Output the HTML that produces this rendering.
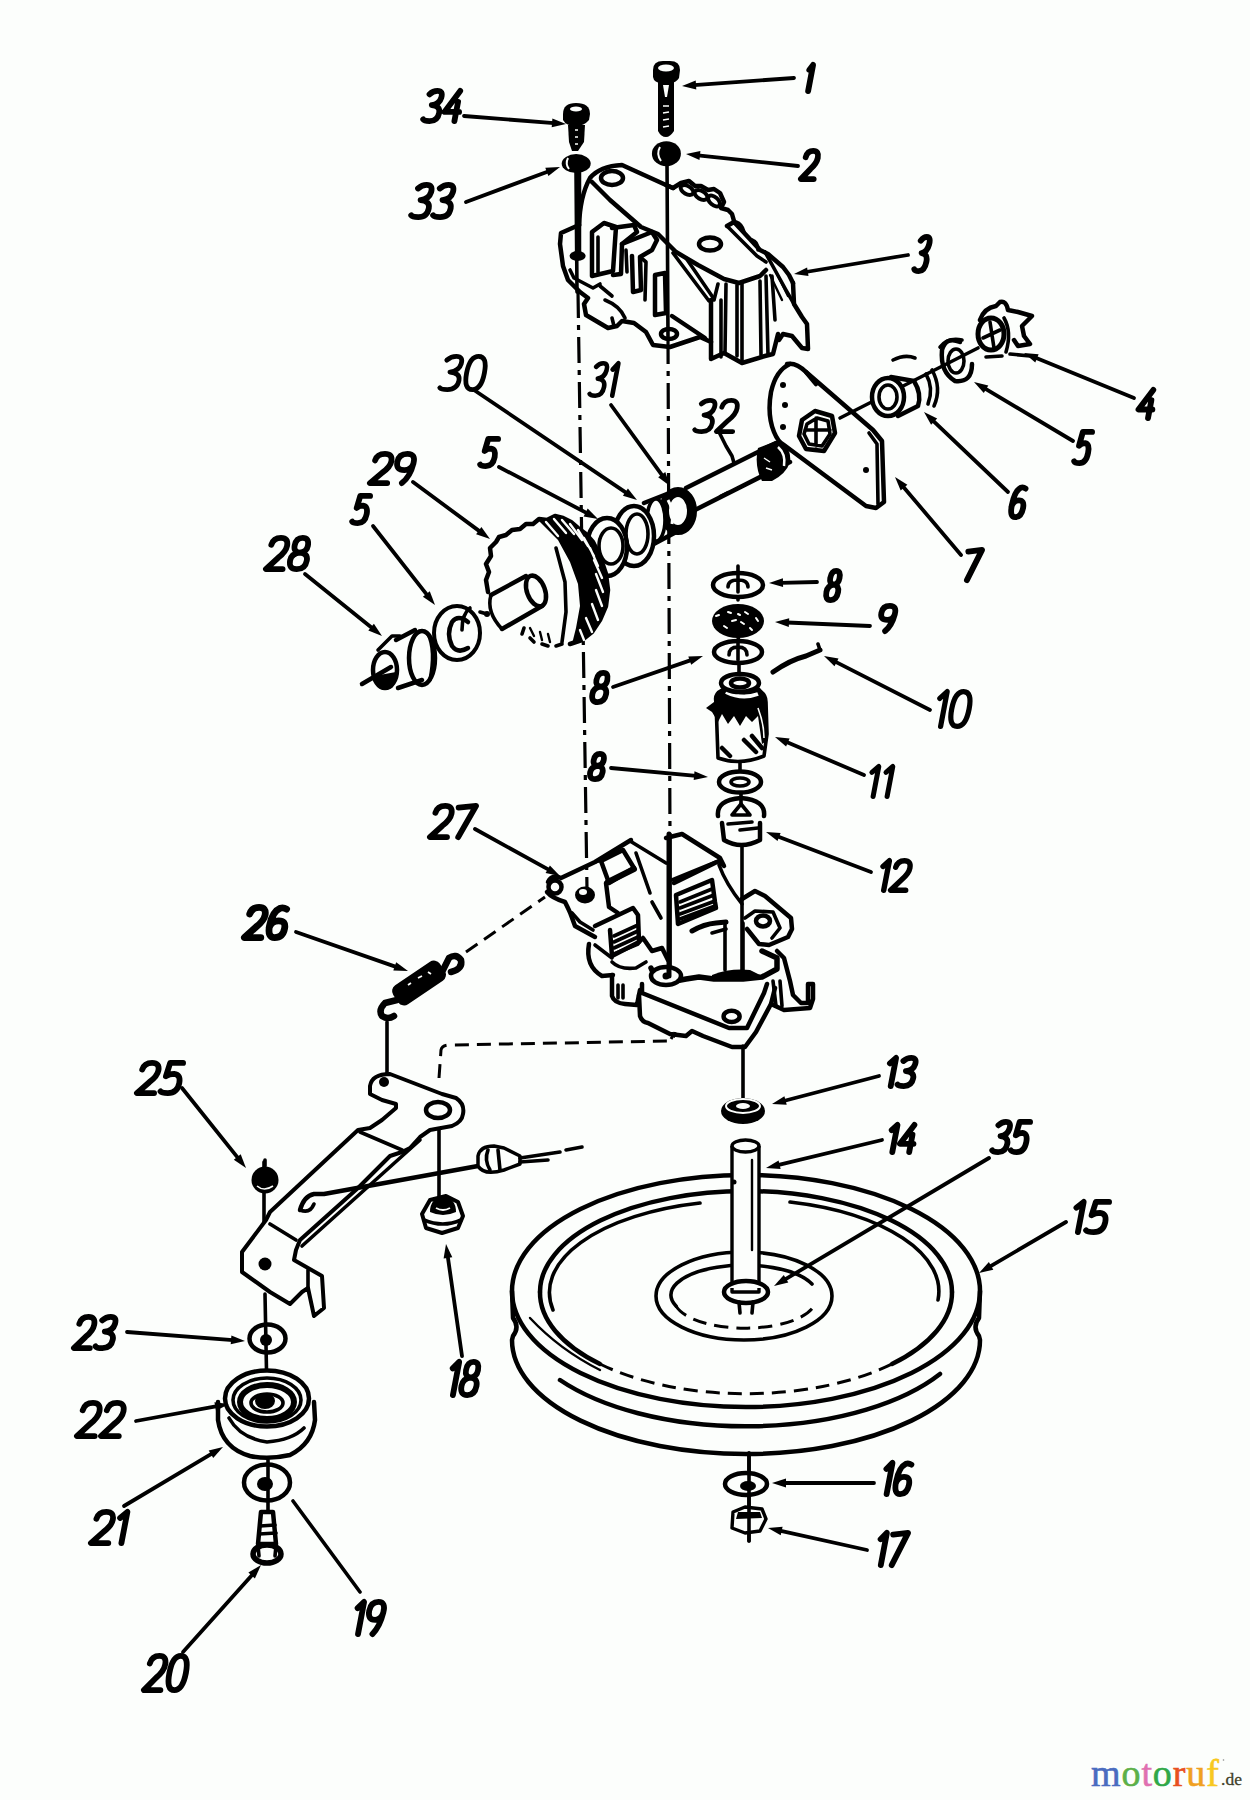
<!DOCTYPE html>
<html><head><meta charset="utf-8"><style>
html,body{margin:0;padding:0;background:#fcfefc;width:1250px;height:1800px;overflow:hidden}
svg{display:block}
.lb{font-family:"Liberation Sans",sans-serif;font-weight:bold;font-style:italic;font-size:100px;fill:#000}
.s{fill:none;stroke:#000;stroke-width:3.6;stroke-linecap:round;stroke-linejoin:round}
.t{fill:none;stroke:#000;stroke-width:2.4;stroke-linecap:round;stroke-linejoin:round}
.k{fill:none;stroke:#000;stroke-width:4.5;stroke-linecap:round;stroke-linejoin:round}
.f{fill:#000;stroke:none}
.w{fill:#fcfefc;stroke:#000;stroke-width:3.4;stroke-linejoin:round}
.dd{fill:none;stroke:#000;stroke-width:3.2;stroke-dasharray:26 7 5 7}
.ds{fill:none;stroke:#000;stroke-width:3;stroke-dasharray:14 8}
</style></head><body>
<svg width="1250" height="1800" viewBox="0 0 1250 1800">
<path class="dd" d="M578,292 L587,889"/>
<path class="s" d="M576,170 L577,292"/>
<path class="s" d="M667,162 L668,338"/>
<path class="dd" d="M668,338 L670,838"/>
<path class="s" d="M670,838 L670,976"/>
<path class="s" d="M742,846 L742,978"/>
<path class="s" d="M743,1046 L743,1100"/>
<path class="ds" d="M466,952 L545,897"/>
<path class="ds" d="M439,1078 L441,1050 Q442,1045 450,1045 L668,1041 Q674,1040 675,1032"/>
<path class="s" d="M387,1022 L387,1080"/>
<path class="s" d="M439,1108 L439,1200"/>
<path class="s" d="M264,1162 L264,1262"/>
<path class="s" d="M265,1294 L267,1396"/>
<path class="s" d="M268,1460 L268,1512"/>
<path class="s" d="M749,1453 L749,1541"/>
<path class="s" d="M738,566 L738,600 M738,634 L739,648 M739,664 L739,676 M740,762 L740,775 M741,792 L741,804"/>
<path class="f" d="M653,70 Q653,61 663,61 L670,61 Q680,61 680,70 L679,78 Q676,83 670,83 L662,83 Q654,83 653,77Z"/>
<ellipse cx="666" cy="68" rx="8" ry="3.5" style="fill:#fcfefc"/>
<path class="f" d="M658,82 L674,82 L674,131 Q670,137 666,137 Q661,137 658,131Z"/>
<path d="M663,85 L669,85 L667,97 L665,97Z" style="fill:#fcfefc"/>
<path d="M663,106 L669,106 M663,113 L669,112 M663,120 L669,119 M663,127 L669,126" stroke="#fcfefc" stroke-width="1.5"/>
<ellipse cx="666.4" cy="153.7" rx="14.5" ry="12.5" class="f"/>
<path d="M660,147 Q656,154 661,161" stroke="#fcfefc" stroke-width="2" fill="none"/>
<path class="f" d="M563,114 Q563,103 576,103 Q590,103 590,114 L589,120 Q584,126 576,126 Q566,126 563,120Z"/>
<ellipse cx="576" cy="109" rx="6" ry="2.5" style="fill:#fcfefc"/>
<path class="f" d="M568,125 L585,125 L584,142 L578,151 L572,151 L569,142Z"/>
<path d="M575,130 L578,130 M575,137 L578,137 M575,144 L578,144" stroke="#fcfefc" stroke-width="1.6"/>
<ellipse cx="576.2" cy="163.6" rx="14.5" ry="9.5" class="f"/>
<path d="M568,158 Q565,164 569,169" stroke="#fcfefc" stroke-width="2" fill="none"/>
<ellipse cx="746" cy="1291" rx="234" ry="116" class="k"/>
<path class="k" d="M540,1292 A206,101 0 0 1 952,1292"/>
<path class="k" d="M540,1292 A206,101 0 0 0 600,1364"/>
<path class="k" d="M952,1292 A206,101 0 0 1 892,1364"/>
<path class="ds" d="M600,1364 A206,101 0 0 0 892,1364"/>
<path class="s" d="M553,1310 A196,92 0 0 1 700,1203"/>
<path class="s" d="M790,1202 A196,92 0 0 1 938,1300"/>
<path class="k" d="M512,1291 L513,1318 Q520,1327 513,1336 L512,1340 A234,114 0 0 0 980,1340 L979,1336 Q972,1327 979,1318 L980,1291"/>
<path class="k" d="M560,1380 A228,110 0 0 0 940,1374"/>
<path class="t" d="M530,1318 Q560,1350 600,1370"/>
<ellipse cx="744" cy="1296" rx="88" ry="44" class="s" style="stroke-width:3.6"/>
<path class="s" d="M676,1306 A71,29 0 0 1 812,1284"/>
<path class="ds" d="M676,1306 A71,29 0 0 0 815,1304"/>
<path class="w" d="M732,1146 L732,1288 L759,1288 L759,1146"/>
<ellipse cx="745.5" cy="1146" rx="13.5" ry="6" class="w"/>
<circle cx="734" cy="1182" r="2.5" class="f"/>
<path class="t" d="M752,1160 L752,1250"/>
<ellipse cx="746" cy="1292" rx="22" ry="11" class="k" style="fill:#fcfefc"/>
<path class="w" d="M732,1288 L732,1292 L759,1292 L759,1288"/>
<path class="s" d="M739,1302 L740,1313 M753,1302 L752,1313"/>
<ellipse cx="743" cy="1111" rx="22" ry="13" class="f"/>
<ellipse cx="743" cy="1106" rx="17" ry="7" style="fill:none;stroke:#fcfefc;stroke-width:2"/>
<ellipse cx="743" cy="1106" rx="7" ry="3" style="fill:#fcfefc"/>
<ellipse cx="746" cy="1484" rx="21" ry="11" class="k" style="fill:#fcfefc"/>
<ellipse cx="748" cy="1486" rx="8" ry="5" class="f"/>
<path class="w" d="M733,1512 L745,1507 L762,1509 L766,1519 L760,1531 L745,1533 L732,1528 Z"/>
<path class="f" d="M738,1512 L760,1512 L762,1518 L736,1519Z"/>
<path class="s" d="M749,1453 L749,1541"/>
<ellipse cx="267.5" cy="1338.5" rx="18" ry="14" class="k"/><circle cx="266" cy="1340" r="6" class="f"/>
<path class="k" d="M218,1402 L218,1420 Q222,1448 250,1456 Q268,1460 290,1455 Q312,1444 315,1420 L314,1402"/>
<path class="s" d="M229,1418 Q240,1438 267,1442 Q292,1440 304,1428"/>
<ellipse cx="267" cy="1398.5" rx="42" ry="28" class="k" style="fill:#fcfefc"/>
<ellipse cx="267" cy="1400" rx="34" ry="22" class="s"/>
<ellipse cx="267" cy="1402" rx="27" ry="17" class="k" style="stroke-width:6"/>
<ellipse cx="267" cy="1403" rx="16" ry="9" class="s"/>
<ellipse cx="265" cy="1401" rx="10" ry="8" class="f"/>
<ellipse cx="267" cy="1482.5" rx="23" ry="18" class="k"/><ellipse cx="265" cy="1484" rx="8" ry="7" class="f"/>
<path class="k" style="fill:#fcfefc" d="M261,1512 L273,1512 L276,1544 L258,1544Z"/>
<path class="s" d="M260,1526 L275,1525 M259,1534 L276,1533"/>
<ellipse cx="267" cy="1554" rx="14" ry="9" class="k" style="stroke-width:5.5;fill:#fcfefc"/>
<path class="s" d="M258,1546 L259,1556 M276,1546 L275,1556"/>
<path class="k" d="M579,226 Q580,196 590,178 Q600,166 622,165 L666,185 L673,188"/>
<path class="k" d="M666,185 L673,188 L681,183 L689,181 L695,186 L701,186 L708,190 L714,189 L720,193 L724,202 L721,208 L728,210 L732,214 L734,221"/>
<ellipse cx="687" cy="190" rx="7" ry="4" transform="rotate(30 687 190)" class="s" style="stroke-width:4"/>
<ellipse cx="701" cy="195" rx="7" ry="4" transform="rotate(30 701 195)" class="s" style="stroke-width:4"/>
<ellipse cx="714" cy="201" rx="7" ry="4" transform="rotate(40 714 201)" class="s" style="stroke-width:4"/>
<path class="k" d="M727,226 L734,222 L760,250 L768,254 L783,267 L789,275 L793,283"/>
<path class="s" d="M727,226 L757,256 L766,262"/>
<path class="s" d="M736,222 Q742,224 744,232 M752,240 Q758,242 758,250"/>
<path class="k" d="M793,283 L794,304 L802,317 L807,324 L808,349 L802,348 L792,336 L783,334 L779,340"/>
<path class="s" d="M765,252 L786,290 L794,304"/>
<path class="k" d="M592,182 L610,200 L641,227 L658,234 L676,252 L698,265 L724,279 L739,283 L760,276 L766,270"/>
<path class="s" d="M673,253 L709,301 L714,299 L686,258"/>
<path class="k" d="M711,300 L711,359 L724,353 L742,363 L765,356 L773,354 L778,334"/>
<path class="s" d="M721,300 L721,357 M726,284 L725,353 M737,285 L737,356 M742,284 L742,362 M760,281 L761,355 M766,276 L768,355 M772,276 L775,320 M718,284 L714,300"/>
<path class="t" d="M770,275 L782,300 M776,272 L788,296"/>
<ellipse cx="612" cy="178" rx="11" ry="7" class="k"/>
<ellipse cx="710" cy="244" rx="11" ry="6.5" class="k"/>
<ellipse cx="669" cy="334" rx="8" ry="5" class="k"/>
<path class="k" d="M579,225 L561,233 L560,244 L563,266 L568,280 L580,292 L588,298 L584,304 L586,315 L608,328 L617,326 L622,321 L634,323 L646,332 L653,345 L670,347 L700,337 L711,342"/>
<path class="s" d="M570,270 L574,278 L593,288 L600,284"/>
<path class="s" d="M605,300 Q620,306 625,318 M612,318 L614,326"/>
<ellipse cx="577.6" cy="256" rx="8" ry="5" class="f"/>
<path class="k" d="M579,170 L579,256"/>
<path class="k" d="M592,276 L592,232 L604,223 L616,227 L613,271 Z"/>
<path class="k" d="M612,228 L634,225 L637,232 L622,244 L621,274 L613,275"/>
<path class="k" d="M622,244 L652,232 L657,240 L652,250 L640,257 L641,290 L633,292 L632,256"/>
<path class="k" d="M655,275 L665,273 L666,313 L655,315 Z"/>
<path class="s" d="M600,286 L612,296 M640,257 L646,262 L645,300"/>
<path class="k" d="M672,316 L705,338"/>
<path class="s" d="M598,237 L598,272 M626,250 L627,272"/>
<path class="k" d="M790,364 Q776,370 771,392 Q767,415 774,432 Q778,442 784,445 L866,506 L876,508 L884,502 L882,441 L873,430 L806,372"/>
<path class="k" d="M787,364 Q796,362 806,372 L816,384"/>
<path class="s" d="M869,433 L877,444 L878,504"/>
<circle cx="783" cy="385" r="3" class="f"/><circle cx="785" cy="405" r="3" class="f"/><circle cx="783" cy="427" r="3" class="f"/><circle cx="866" cy="470" r="3" class="f"/>
<path class="k" d="M802,420 L815,411 L832,416 L835,433 L824,451 L806,449 L799,436 Z"/>
<path class="s" d="M807,424 L817,418 L828,421 L830,434 L822,446 L809,444 L804,434 Z M805,430 L830,430 M816,418 L816,446"/>
<path class="s" d="M840,418 L978,348"/>
<path class="k" d="M891,377 L914,381 Q922,394 918,406 L898,416"/>
<ellipse cx="888" cy="397" rx="16" ry="19" class="k" style="fill:#fcfefc"/>
<ellipse cx="888" cy="397" rx="9" ry="12" class="s"/>
<path class="s" d="M926,374 Q934,388 928,404 M932,370 Q942,388 934,406"/>
<path class="s" d="M893,360 Q905,354 915,358"/>
<path class="k" d="M960,342 Q946,336 942,350 Q940,372 955,381 Q972,383 972,364"/>
<ellipse cx="956" cy="361" rx="8" ry="12" class="s"/>
<path class="s" d="M940,347 Q948,337 962,340"/>
<path class="k" d="M980,320 Q984,308 996,306 L1000,302 Q1006,300 1008,310 L1018,312 L1032,316 L1022,326 L1024,336 L1030,344 L1018,346 L1014,340"/>
<ellipse cx="991" cy="334" rx="13" ry="16" class="k" style="stroke-width:5"/>
<path class="s" d="M983,338 L1000,330 M990,322 L994,348"/>
<path class="s" d="M1004,318 Q1012,332 1006,352"/>
<path class="s" d="M986,357 L1002,356 M1010,354 L1030,356"/>
<path class="w" d="M686,488 L776,443 L790,462 L695,510 Z" style="stroke:none"/>
<path class="k" d="M686,488 L776,443 M695,510 L790,462"/>
<path class="s" d="M719,432 L726,446 L732,456 L734,463"/>
<path class="f" d="M758,448 L776,441 Q792,446 790,462 Q786,474 772,481 L762,481 Q754,466 758,448Z"/>
<path d="M778,447 Q786,454 784,466" stroke="#fcfefc" stroke-width="2.5" fill="none"/>
<path d="M764,458 L770,462 M766,468 L772,470" stroke="#fcfefc" stroke-width="1.5" fill="none"/>
<path class="t" d="M720,496 L728,492"/>
<ellipse cx="678" cy="511" rx="14" ry="19" class="k" style="stroke-width:10;fill:#fcfefc"/>
<path d="M668,500 Q674,510 672,524" stroke="#fcfefc" stroke-width="3" fill="none"/>
<path class="k" d="M644,503 L672,492 M650,546 L680,530"/>
<ellipse cx="656" cy="520" rx="9" ry="21" class="s" style="fill:#fcfefc"/>
<ellipse cx="634" cy="536" rx="20" ry="30" class="k" style="fill:#fcfefc"/>
<ellipse cx="637" cy="534" rx="11" ry="20" class="s"/>
<ellipse cx="607" cy="547" rx="20" ry="29" class="k" style="fill:#fcfefc"/>
<ellipse cx="611" cy="546" rx="12" ry="18" class="s"/>
<path style="fill:#fcfefc;stroke:none" d="M488,592 L486,580 L489,572 L486,564 L491,556 L490,548 L496,542 L499,537 L506,535 L512,530 L520,529 L526,524 L533,524 L539,519 L547,520 L555,516 L563,518 L571,522 L578,528 L586,534 L593,542 L598,552 L602,562 L606,574 L608,590 L606,606 L600,620 L592,632 L582,640 L570,644 L556,645 L542,644 L530,640 L520,634 L505,625 Z"/>
<path class="k" d="M488,592 L486,580 L489,572 L486,564 L491,556 L490,548 L496,542 L499,537 L506,535 L512,530 L520,529 L526,524 L533,524 L539,519 L547,520 L555,516 L563,518 L571,522 L578,528 L586,534 L593,542 L598,552 L602,562 L606,574 L608,590 L606,606 L600,620 L592,632 L582,640 L570,644"/>
<path class="s" d="M556,646 L562,644 M542,644 L548,646 M530,638 L534,642 M522,634 L524,628"/>
<path class="f" d="M538,520 L547,520 L555,516 L563,518 L571,522 L578,528 L586,534 L593,542 L598,552 L602,562 L606,574 L608,590 L606,606 L600,620 L592,632 L582,640 L572,644 L576,628 L580,606 L578,584 L570,562 L558,540 Z"/>
<path d="M546,522 L558,536 M554,519 L566,533 M562,520 L574,534 M570,524 L582,540 M578,530 L588,546 M584,538 L594,556 M590,548 L598,566 M594,560 L602,578 M596,574 L603,592 M596,590 L602,606 M592,604 L598,620 M586,618 L592,632 M580,630 L584,640" stroke="#fcfefc" stroke-width="2.4" stroke-linecap="round"/>
<path class="s" d="M556,548 L565,582 L566,612 L562,642"/>
<path class="t" d="M530,628 L534,636 M540,632 L542,640 M548,634 L550,642"/>
<path class="w" d="M491,595 L526,576 L540,590 L544,606 L502,629 Z" style="stroke:none"/>
<path class="k" d="M491,595 L526,576 M502,629 L542,606"/>
<ellipse cx="536" cy="591" rx="9" ry="16" transform="rotate(-20 536 591)" class="k"/>
<path class="s" d="M491,595 Q486,612 502,629"/>
<circle cx="487" cy="614" r="3" class="f"/>
<path class="s" d="M480,612 L487,614 M470,608 Q462,614 462,630"/>
<ellipse cx="457" cy="633" rx="23" ry="27" class="s" style="stroke-width:4"/>
<path class="k" d="M468,622 Q458,614 452,622 Q446,634 452,646 Q458,654 468,648"/>
<ellipse cx="422" cy="658" rx="13" ry="27" class="k" style="fill:#fcfefc"/>
<path class="s" d="M428,634 Q436,650 430,680"/>
<path class="k" d="M396,640 L415,630 M398,688 L422,680"/>
<ellipse cx="385" cy="670" rx="12" ry="18" class="k" style="fill:#fcfefc"/>
<path class="f" d="M374,676 Q380,692 392,688 Q398,680 396,672 Z"/>
<path class="k" d="M362,684 L391,667"/>
<path class="s" d="M378,650 L392,636 L400,636"/>
<ellipse cx="738" cy="585" rx="25" ry="12" class="k" style="fill:#fcfefc"/>
<path class="s" d="M728,587 Q728,580 738,580 Q748,580 748,587 M738,572 L738,592"/>
<ellipse cx="738" cy="621" rx="26" ry="17" class="f"/>
<path d="M716,616 L719,615 M728,612 L731,613 M745,612 L748,614 M756,618 L758,621 M732,621 L736,620 M741,622 L744,624 M724,626 L727,628 M750,628 L752,630 M738,614 L740,615" stroke="#fcfefc" stroke-width="2" stroke-linecap="round"/>
<ellipse cx="738" cy="652" rx="24" ry="11" class="k" style="fill:#fcfefc"/>
<path class="s" d="M729,655 Q729,647 738,647 Q747,647 747,655 M738,642 L738,660"/>
<path class="k" style="stroke-width:5" d="M773,672 Q790,660 806,656 L820,650"/>
<path class="s" d="M820,650 L818,644"/>
<path class="s" style="fill:#fcfefc" d="M716,702 Q714,694 722,690 L758,690 Q766,694 766,702 L767,734 L764,756 Q740,766 718,758 Z"/>
<path class="f" d="M706,708 L714,702 Q718,690 726,686 L760,688 Q768,696 766,708 L768,740 L762,744 L758,716 L752,722 L746,716 L740,726 L734,716 L728,724 L722,714 L718,722 L712,712Z"/>
<path d="M726,692 Q742,700 758,694" stroke="#fcfefc" stroke-width="4" fill="none"/>
<path d="M758,708 Q764,724 764,738" stroke="#fcfefc" stroke-width="1.6" fill="none"/>
<ellipse cx="740" cy="683" rx="19" ry="9" class="k" style="fill:#fcfefc"/>
<ellipse cx="740" cy="683" rx="9" ry="4.5" class="k"/>
<path class="k" d="M744,740 L756,752 M752,736 L762,748 M722,748 L730,756"/>
<ellipse cx="740" cy="782" rx="21" ry="10.5" class="k" style="fill:#fcfefc"/>
<ellipse cx="740" cy="782" rx="9" ry="4" class="s"/>
<path class="k" d="M718,816 Q716,800 741,798 Q766,800 764,816"/>
<path class="s" d="M732,815 L741,804 L750,815 Z"/>
<path class="k" d="M722,823 L724,840 Q741,850 760,840 L760,823"/>
<path class="s" d="M728,824 L752,822 M740,830 L758,828"/>
<circle cx="555" cy="887" r="6.5" class="k"/>
<path class="k" d="M548,882 Q552,874 561,878 L595,862 L631,840"/>
<path class="s" d="M598,861 L623,850"/>
<path class="k" d="M547,892 Q552,898 565,902 Q570,912 571,915 L575,926 L595,937"/>
<path class="s" d="M572,913 L580,922 L593,930"/>
<ellipse cx="585" cy="895" rx="10" ry="8.5" class="f"/>
<ellipse cx="583" cy="892" rx="4" ry="3" style="fill:#fcfefc"/>
<path class="k" d="M601,861 L623,850 L634,868 L609,883 Z"/>
<path class="k" style="stroke-width:6" d="M608,882 L634,869"/>
<path class="k" d="M606,883 L609,907 L618,913"/>
<path class="s" d="M636,853 L650,893 M652,902 L661,918"/>
<path class="k" d="M595,926 L633,908 L638,915 L639,942 L612,956 L610,930"/>
<path class="s" d="M614,936 L638,925 M614,942 L638,931 M614,948 L638,937 M614,954 L638,944"/>
<path class="k" d="M639,942 L643,938 L652,951 L662,948 L668,960"/>
<path class="k" d="M589,944 Q585,966 602,976 L613,975"/>
<path class="s" d="M595,945 L612,958"/>
<path class="k" d="M612,975 L612,996 Q614,1003 625,1004 L637,1005 L640,990"/>
<path class="s" d="M618,985 L618,998 M623,985 L623,998"/>
<path class="s" d="M612,962 Q620,970 636,968 L646,962"/>
<path class="k" d="M639,995 L640,1016 Q642,1022 648,1023 L670,1034 L686,1036 L692,1031 L703,1036 L732,1047 L745,1047 L756,1032 L771,1004 L775,988"/>
<path class="k" d="M642,984 L642,993 L729,1028 L747,1028 L764,993 L767,984"/>
<ellipse cx="731.6" cy="1016.4" rx="8" ry="5.6" class="k"/>
<path class="s" d="M773,981 L776,1006 M780,981 L782,1006"/>
<path class="ds" d="M671,1039 L674,1034"/>
<path class="k" style="stroke-width:5.5" d="M651,968 L655,977 L670,982 L686,979 L699,977 L714,979 L743,979 L762,977 L777,969 L777,958 L762,951"/>
<ellipse cx="666" cy="976" rx="15" ry="9" class="k" style="fill:#fcfefc"/>
<circle cx="666" cy="976" r="3.5" class="f"/>
<path class="f" d="M712,975 Q730,968 750,970 L762,976 Q740,982 712,979Z"/>
<path class="k" d="M666,838 L682,834 L720,858 L724,866 L719,861 L674,883"/>
<path class="s" d="M672,880 L716,862 M630,841 L666,863"/>
<path class="k" d="M676,895 L712,880 L715,902 L716,908 L678,924 Z"/>
<path class="s" d="M680,902 L712,889 M680,908 L714,895 M680,914 L715,901 M680,919 L715,906"/>
<path class="k" style="stroke-width:5" d="M692,931 Q704,924 716,923 L726,922"/>
<path class="s" d="M712,933 L726,929"/>
<path class="s" d="M719,865 Q726,884 742,904"/>
<path class="k" d="M742,899 L755,891 L765,896 L791,918 L792,929 L788,937 L769,945 L759,944 L747,929"/>
<path class="s" d="M745,918 L755,911 L773,912 L780,928 L772,938"/>
<ellipse cx="763" cy="921" rx="7" ry="5.5" class="k"/>
<path class="s" d="M725,923 L725,970 M743,923 L743,970"/>
<path class="k" style="stroke-width:5" d="M669,834 L669,976"/>
<path class="k" d="M777,951 L784,958 L790,981 L793,995 L801,1003 L808,1003 L808,984 L813,984 L813,999 L810,1008 L784,1010 L771,1004"/>
<rect x="-28" y="-11.5" width="56" height="23" rx="7" transform="translate(419 983) rotate(-34)" class="f"/>
<path d="M408,985 L411,983 M418,978 L422,976 M428,972 L431,974" stroke="#fcfefc" stroke-width="1.8"/>
<path class="k" style="stroke-width:6.5" d="M442,972 L449,958 Q456,953 461,960 Q463,969 451,972"/>
<path class="k" style="stroke-width:6.5" d="M397,1000 L385,1003 Q378,1010 382,1016 Q388,1020 394,1016"/>
<path class="w" style="stroke-width:4" d="M370,1086 Q372,1074 390,1074 L442,1094 L456,1098 Q465,1104 463,1114 Q462,1122 452,1126 L430,1130 L420,1137 L410,1148 L402,1152 L390,1156 L358,1188 L300,1240 L296,1250 L294,1260 L322,1276 L324,1308 L314,1316 L308,1288 L302,1292 L290,1304 L270,1292 L242,1272 L242,1252 L266,1220 L270,1212 L358,1130 L370,1128 L382,1120 L396,1108 L396,1104 L382,1100 L370,1094 Z"/>
<path class="s" d="M360,1132 L402,1150 M270,1224 L296,1240 M308,1288 L308,1270"/>
<path class="s" d="M420,1140 L302,1246"/>
<circle cx="384" cy="1082" r="5" class="f"/>
<ellipse cx="438" cy="1110" rx="12" ry="8" class="k"/>
<circle cx="265" cy="1264" r="6.5" class="f"/>
<path class="k" d="M300,1210 Q304,1196 314,1194 L324,1194 L478,1166"/>
<path class="s" d="M300,1210 Q310,1214 314,1204"/>
<path class="w" style="stroke-width:3.5" d="M478,1156 Q480,1146 494,1146 L504,1148 L520,1156 L520,1164 L504,1170 Q484,1176 478,1166Z"/>
<path class="s" d="M488,1150 Q484,1160 490,1170 M498,1150 L500,1170"/>
<path class="s" d="M520,1158 L560,1152 M566,1150 L582,1147 M520,1162 L548,1160"/>
<circle cx="265" cy="1180" r="13.5" class="f"/>
<path d="M257,1186 Q264,1192 273,1186" stroke="#fcfefc" stroke-width="1.6" fill="none"/>
<path class="s" d="M265,1160 L265,1166"/>
<path class="w" style="stroke-width:4" d="M422,1214 L430,1200 L446,1196 L458,1202 L463,1216 L458,1228 L442,1233 L426,1228 Z"/>
<path class="f" d="M430,1212 Q430,1198 443,1197 Q456,1198 456,1212 Q443,1218 430,1212Z"/>
<path d="M436,1208 Q443,1212 450,1208" stroke="#fcfefc" stroke-width="1.8" fill="none"/>
<path class="s" d="M424,1220 Q443,1228 461,1220"/>
<line x1="794" y1="78" x2="694.0" y2="85.1" stroke="#000" stroke-width="3.8" stroke-linecap="round"/><path d="M682.0,86.0 L695.7,80.6 L696.3,89.4Z" fill="#000"/>
<line x1="464" y1="116" x2="554.0" y2="123.1" stroke="#000" stroke-width="3.8" stroke-linecap="round"/><path d="M566.0,124.0 L551.7,127.3 L552.4,118.5Z" fill="#000"/>
<line x1="798" y1="166" x2="697.9" y2="155.3" stroke="#000" stroke-width="3.8" stroke-linecap="round"/><path d="M686.0,154.0 L700.4,151.1 L699.5,159.9Z" fill="#000"/>
<line x1="466" y1="202" x2="548.8" y2="171.2" stroke="#000" stroke-width="3.8" stroke-linecap="round"/><path d="M560.0,167.0 L548.4,176.0 L545.3,167.8Z" fill="#000"/>
<line x1="908" y1="255" x2="805.8" y2="272.0" stroke="#000" stroke-width="3.8" stroke-linecap="round"/><path d="M794.0,274.0 L807.1,267.4 L808.5,276.0Z" fill="#000"/>
<line x1="1134" y1="398" x2="1035.1" y2="357.5" stroke="#000" stroke-width="3.8" stroke-linecap="round"/><path d="M1024.0,353.0 L1038.6,354.2 L1035.3,362.4Z" fill="#000"/>
<line x1="1073" y1="441" x2="984.3" y2="388.1" stroke="#000" stroke-width="3.8" stroke-linecap="round"/><path d="M974.0,382.0 L988.3,385.4 L983.8,392.9Z" fill="#000"/>
<line x1="1008" y1="492" x2="932.7" y2="420.3" stroke="#000" stroke-width="3.8" stroke-linecap="round"/><path d="M924.0,412.0 L937.2,418.5 L931.1,424.8Z" fill="#000"/>
<line x1="961" y1="555" x2="902.8" y2="486.2" stroke="#000" stroke-width="3.8" stroke-linecap="round"/><path d="M895.0,477.0 L907.4,484.8 L900.7,490.5Z" fill="#000"/>
<line x1="817" y1="582" x2="781.0" y2="582.8" stroke="#000" stroke-width="3.8" stroke-linecap="round"/><path d="M769.0,583.0 L782.9,578.3 L783.1,587.1Z" fill="#000"/>
<line x1="870" y1="626" x2="787.0" y2="622.5" stroke="#000" stroke-width="3.8" stroke-linecap="round"/><path d="M775.0,622.0 L789.2,618.2 L788.8,627.0Z" fill="#000"/>
<line x1="613" y1="687" x2="691.7" y2="659.9" stroke="#000" stroke-width="3.8" stroke-linecap="round"/><path d="M703.0,656.0 L691.2,664.7 L688.3,656.4Z" fill="#000"/>
<line x1="930" y1="710" x2="834.7" y2="661.4" stroke="#000" stroke-width="3.8" stroke-linecap="round"/><path d="M824.0,656.0 L838.5,658.4 L834.5,666.3Z" fill="#000"/>
<line x1="864" y1="775" x2="786.0" y2="741.7" stroke="#000" stroke-width="3.8" stroke-linecap="round"/><path d="M775.0,737.0 L789.6,738.5 L786.1,746.5Z" fill="#000"/>
<line x1="611" y1="768" x2="696.1" y2="775.9" stroke="#000" stroke-width="3.8" stroke-linecap="round"/><path d="M708.0,777.0 L693.7,780.1 L694.5,771.3Z" fill="#000"/>
<line x1="871" y1="872" x2="777.2" y2="836.3" stroke="#000" stroke-width="3.8" stroke-linecap="round"/><path d="M766.0,832.0 L780.6,832.9 L777.5,841.1Z" fill="#000"/>
<line x1="474" y1="390" x2="627.1" y2="493.3" stroke="#000" stroke-width="3.8" stroke-linecap="round"/><path d="M637.0,500.0 L622.9,495.8 L627.9,488.5Z" fill="#000"/>
<line x1="611" y1="405" x2="662.9" y2="476.3" stroke="#000" stroke-width="3.8" stroke-linecap="round"/><path d="M670.0,486.0 L658.2,477.3 L665.3,472.1Z" fill="#000"/>
<line x1="499" y1="467" x2="587.4" y2="513.4" stroke="#000" stroke-width="3.8" stroke-linecap="round"/><path d="M598.0,519.0 L583.6,516.4 L587.7,508.6Z" fill="#000"/>
<line x1="413" y1="482" x2="480.4" y2="531.9" stroke="#000" stroke-width="3.8" stroke-linecap="round"/><path d="M490.0,539.0 L476.1,534.2 L481.4,527.1Z" fill="#000"/>
<line x1="373" y1="526" x2="427.6" y2="595.6" stroke="#000" stroke-width="3.8" stroke-linecap="round"/><path d="M435.0,605.0 L422.9,596.7 L429.8,591.3Z" fill="#000"/>
<line x1="305" y1="574" x2="372.7" y2="628.5" stroke="#000" stroke-width="3.8" stroke-linecap="round"/><path d="M382.0,636.0 L368.3,630.6 L373.9,623.8Z" fill="#000"/>
<line x1="475" y1="829" x2="549.5" y2="870.2" stroke="#000" stroke-width="3.8" stroke-linecap="round"/><path d="M560.0,876.0 L545.6,873.1 L549.9,865.4Z" fill="#000"/>
<line x1="296" y1="932" x2="396.7" y2="967.1" stroke="#000" stroke-width="3.8" stroke-linecap="round"/><path d="M408.0,971.0 L393.3,970.6 L396.2,962.2Z" fill="#000"/>
<line x1="879" y1="1076" x2="783.6" y2="1101.0" stroke="#000" stroke-width="3.8" stroke-linecap="round"/><path d="M772.0,1104.0 L784.4,1096.2 L786.7,1104.7Z" fill="#000"/>
<line x1="882" y1="1140" x2="777.7" y2="1165.2" stroke="#000" stroke-width="3.8" stroke-linecap="round"/><path d="M766.0,1168.0 L778.6,1160.4 L780.6,1169.0Z" fill="#000"/>
<line x1="989" y1="1158" x2="784.3" y2="1279.9" stroke="#000" stroke-width="3.8" stroke-linecap="round"/><path d="M774.0,1286.0 L783.8,1275.1 L788.3,1282.6Z" fill="#000"/>
<line x1="1066" y1="1222" x2="989.4" y2="1266.9" stroke="#000" stroke-width="3.8" stroke-linecap="round"/><path d="M979.0,1273.0 L988.9,1262.1 L993.3,1269.7Z" fill="#000"/>
<line x1="874" y1="1483" x2="784.0" y2="1483.0" stroke="#000" stroke-width="3.8" stroke-linecap="round"/><path d="M772.0,1483.0 L786.0,1478.6 L786.0,1487.4Z" fill="#000"/>
<line x1="867" y1="1550" x2="779.7" y2="1530.6" stroke="#000" stroke-width="3.8" stroke-linecap="round"/><path d="M768.0,1528.0 L782.6,1526.7 L780.7,1535.3Z" fill="#000"/>
<line x1="182" y1="1088" x2="238.5" y2="1158.6" stroke="#000" stroke-width="3.8" stroke-linecap="round"/><path d="M246.0,1168.0 L233.8,1159.8 L240.7,1154.3Z" fill="#000"/>
<line x1="462" y1="1356" x2="447.7" y2="1255.9" stroke="#000" stroke-width="3.8" stroke-linecap="round"/><path d="M446.0,1244.0 L452.3,1257.2 L443.6,1258.5Z" fill="#000"/>
<line x1="127" y1="1332" x2="233.0" y2="1340.1" stroke="#000" stroke-width="3.8" stroke-linecap="round"/><path d="M245.0,1341.0 L230.7,1344.3 L231.4,1335.5Z" fill="#000"/>
<line x1="136" y1="1421" x2="217.2" y2="1406.2" stroke="#000" stroke-width="3.8" stroke-linecap="round"/><path d="M229.0,1404.0 L216.0,1410.8 L214.4,1402.2Z" fill="#000"/>
<line x1="124" y1="1506" x2="212.7" y2="1453.1" stroke="#000" stroke-width="3.8" stroke-linecap="round"/><path d="M223.0,1447.0 L213.2,1457.9 L208.7,1450.4Z" fill="#000"/>
<line x1="360" y1="1592" x2="293" y2="1501" stroke="#000" stroke-width="3.6" stroke-linecap="round"/>
<line x1="183" y1="1652" x2="253.0" y2="1573.9" stroke="#000" stroke-width="3.8" stroke-linecap="round"/><path d="M261.0,1565.0 L254.9,1578.4 L248.4,1572.5Z" fill="#000"/>
<path d="M809.3,70.0L813.1,64.9L808.1,91.1" fill="none" stroke="#000" stroke-width="5.8" stroke-linecap="round" stroke-linejoin="round"/>
<path d="M805.7,157.2Q807.5,150.9 813.3,150.9Q819.1,150.9 817.8,157.9Q816.7,163.4 810.5,168.9L800.9,179.1L813.7,179.1" fill="none" stroke="#000" stroke-width="5.8" stroke-linecap="round" stroke-linejoin="round"/>
<path d="M920.7,240.7Q923.6,236.9 926.8,236.9Q931.1,236.9 929.1,244.5Q927.1,252.1 921.6,253.1Q927.9,254.0 926.4,261.6Q924.6,271.1 918.7,271.1Q915.0,271.1 914.3,269.2" fill="none" stroke="#000" stroke-width="5.8" stroke-linecap="round" stroke-linejoin="round"/>
<path d="M1153.3,389.9L1138.5,409.5L1152.4,409.5M1151.4,400.1L1148.0,418.1" fill="none" stroke="#000" stroke-width="5.8" stroke-linecap="round" stroke-linejoin="round"/>
<path d="M498.1,438.9L488.3,438.9L484.7,451.0Q487.1,448.7 491.0,448.7Q496.1,449.5 494.7,457.0Q492.9,466.1 485.8,466.1Q481.2,466.1 480.2,464.6" fill="none" stroke="#000" stroke-width="5.8" stroke-linecap="round" stroke-linejoin="round"/>
<path d="M1092.1,431.9L1082.9,431.9L1079.0,445.8Q1081.4,443.2 1085.1,443.2Q1089.8,444.0 1088.1,452.7Q1086.2,463.1 1079.4,463.1Q1075.1,463.1 1074.2,461.4" fill="none" stroke="#000" stroke-width="5.8" stroke-linecap="round" stroke-linejoin="round"/>
<path d="M370.1,495.9L360.3,495.9L356.7,508.0Q359.1,505.7 363.0,505.7Q368.1,506.5 366.7,514.0Q364.9,523.1 357.8,523.1Q353.2,523.1 352.2,521.6" fill="none" stroke="#000" stroke-width="5.8" stroke-linecap="round" stroke-linejoin="round"/>
<path d="M1025.5,488.6Q1023.4,486.9 1020.7,487.7Q1014.5,491.1 1011.8,505.4Q1009.5,517.1 1015.1,517.1Q1021.4,517.1 1023.1,507.9Q1024.5,500.3 1018.9,500.3Q1013.3,500.3 1011.4,507.0" fill="none" stroke="#000" stroke-width="5.8" stroke-linecap="round" stroke-linejoin="round"/>
<path d="M968.3,551.6L982.1,549.9L966.9,580.1" fill="none" stroke="#000" stroke-width="5.8" stroke-linecap="round" stroke-linejoin="round"/>
<path d="M833.7,584.7Q829.1,583.9 830.2,578.2Q831.6,570.9 836.3,570.9Q840.9,570.9 839.5,578.2Q838.5,583.9 833.7,584.7Q827.7,585.5 826.4,592.0Q824.9,600.1 830.7,600.1Q836.6,600.1 838.1,592.0Q839.3,585.5 833.7,584.7Z" fill="none" stroke="#000" stroke-width="5.8" stroke-linecap="round" stroke-linejoin="round"/>
<path d="M600.7,686.7Q595.3,685.9 596.4,680.2Q597.8,672.9 603.3,672.9Q608.7,672.9 607.3,680.2Q606.3,685.9 600.7,686.7Q593.7,687.5 592.4,694.0Q590.9,702.1 597.7,702.1Q604.6,702.1 606.1,694.0Q607.3,687.5 600.7,686.7Z" fill="none" stroke="#000" stroke-width="5.8" stroke-linecap="round" stroke-linejoin="round"/>
<path d="M597.6,765.8Q592.8,765.1 593.7,760.2Q594.9,753.9 599.9,753.9Q604.9,753.9 603.7,760.2Q602.7,765.1 597.6,765.8Q591.3,766.5 590.2,772.1Q588.9,779.1 595.1,779.1Q601.3,779.1 602.6,772.1Q603.7,766.5 597.6,765.8Z" fill="none" stroke="#000" stroke-width="5.8" stroke-linecap="round" stroke-linejoin="round"/>
<path d="M894.8,614.3Q893.0,619.9 887.2,619.9Q880.0,619.9 881.4,612.9Q882.7,605.9 889.9,605.9Q897.1,605.9 894.8,614.3Q891.9,625.5 885.1,631.1" fill="none" stroke="#000" stroke-width="5.8" stroke-linecap="round" stroke-linejoin="round"/>
<path d="M939.8,698.4L947.2,691.6L940.6,726.4M963.7,691.6Q972.4,691.6 969.1,709.0Q965.8,726.4 957.1,726.4Q948.4,726.4 951.7,709.0Q955.0,691.6 963.7,691.6Z" fill="none" stroke="#000" stroke-width="5.2" stroke-linecap="round" stroke-linejoin="round"/>
<path d="M871.9,772.3L878.8,766.5L873.1,796.5M886.0,772.3L892.8,766.5L887.1,796.5" fill="none" stroke="#000" stroke-width="5.0" stroke-linecap="round" stroke-linejoin="round"/>
<path d="M883.0,866.5L889.4,860.7L883.7,890.3M895.7,867.3Q897.7,860.7 904.5,860.7Q911.3,860.7 909.9,868.1Q908.8,873.9 901.7,879.6L890.6,890.3L905.7,890.3" fill="none" stroke="#000" stroke-width="5.4" stroke-linecap="round" stroke-linejoin="round"/>
<path d="M889.9,1063.4L896.1,1057.9L890.7,1086.1M903.4,1061.0Q906.9,1057.9 911.3,1057.9Q917.1,1057.9 915.2,1064.2Q913.3,1070.4 905.9,1071.2Q914.4,1072.0 913.2,1078.3Q911.7,1086.1 903.8,1086.1Q898.7,1086.1 897.5,1084.5" fill="none" stroke="#000" stroke-width="5.8" stroke-linecap="round" stroke-linejoin="round"/>
<path d="M891.7,1130.2L897.5,1124.9L892.3,1152.1M914.4,1124.9L900.0,1143.8L913.5,1143.8M912.5,1134.7L909.2,1152.1" fill="none" stroke="#000" stroke-width="5.8" stroke-linecap="round" stroke-linejoin="round"/>
<path d="M1076.4,1207.8L1083.7,1201.9L1077.9,1232.1M1109.1,1201.9L1095.9,1201.9L1091.6,1215.3Q1094.7,1212.8 1100.0,1212.8Q1106.9,1213.6 1105.3,1222.0Q1103.4,1232.1 1093.7,1232.1Q1087.6,1232.1 1086.1,1230.4" fill="none" stroke="#000" stroke-width="5.8" stroke-linecap="round" stroke-linejoin="round"/>
<path d="M886.4,1469.0L892.5,1462.9L886.6,1494.1M911.4,1464.6Q908.8,1462.9 905.8,1463.8Q898.8,1467.2 896.0,1482.0Q893.7,1494.1 900.1,1494.1Q907.2,1494.1 909.0,1484.6Q910.5,1476.8 904.1,1476.8Q897.7,1476.8 895.7,1483.7" fill="none" stroke="#000" stroke-width="5.8" stroke-linecap="round" stroke-linejoin="round"/>
<path d="M880.6,1539.2L886.9,1532.9L880.8,1565.1M893.1,1534.7L908.1,1532.9L891.7,1565.1" fill="none" stroke="#000" stroke-width="5.8" stroke-linecap="round" stroke-linejoin="round"/>
<path d="M452.7,1368.4L459.2,1361.9L452.9,1395.1M470.6,1377.6Q464.7,1376.7 466.0,1370.2Q467.5,1361.9 473.6,1361.9Q479.6,1361.9 478.0,1370.2Q476.8,1376.7 470.6,1377.6Q462.9,1378.5 461.5,1385.9Q459.7,1395.1 467.3,1395.1Q474.8,1395.1 476.5,1385.9Q477.9,1378.5 470.6,1377.6Z" fill="none" stroke="#000" stroke-width="5.8" stroke-linecap="round" stroke-linejoin="round"/>
<path d="M357.6,1608.2L364.1,1601.9L358.0,1634.1M383.3,1612.6Q381.2,1619.8 375.1,1619.8Q367.5,1619.8 369.2,1610.8Q370.9,1601.9 378.5,1601.9Q386.1,1601.9 383.3,1612.6Q379.8,1626.9 372.4,1634.1" fill="none" stroke="#000" stroke-width="5.8" stroke-linecap="round" stroke-linejoin="round"/>
<path d="M149.8,1663.5Q152.0,1655.9 159.5,1655.9Q166.9,1655.9 165.2,1664.5Q164.0,1671.1 156.1,1677.8L143.9,1690.1L160.4,1690.1M180.9,1655.9Q189.1,1655.9 185.9,1673.0Q182.6,1690.1 174.4,1690.1Q166.1,1690.1 169.4,1673.0Q172.6,1655.9 180.9,1655.9Z" fill="none" stroke="#000" stroke-width="5.8" stroke-linecap="round" stroke-linejoin="round"/>
<path d="M96.4,1518.8Q98.6,1511.9 106.4,1511.9Q114.3,1511.9 112.8,1519.7Q111.6,1525.8 103.5,1531.8L90.9,1543.1L108.3,1543.1M120.1,1518.0L127.4,1511.9L121.4,1543.1" fill="none" stroke="#000" stroke-width="5.8" stroke-linecap="round" stroke-linejoin="round"/>
<path d="M82.7,1410.3Q85.0,1402.9 93.0,1402.9Q101.0,1402.9 99.5,1411.2Q98.2,1417.7 89.9,1424.1L76.9,1436.1L94.7,1436.1M106.8,1410.3Q109.1,1402.9 117.1,1402.9Q125.1,1402.9 123.5,1411.2Q122.3,1417.7 113.9,1424.1L101.0,1436.1L118.8,1436.1" fill="none" stroke="#000" stroke-width="5.8" stroke-linecap="round" stroke-linejoin="round"/>
<path d="M79.3,1323.8Q81.4,1316.9 88.6,1316.9Q95.7,1316.9 94.2,1324.7Q93.1,1330.8 85.6,1336.8L73.9,1348.1L89.8,1348.1M102.2,1320.4Q106.0,1316.9 110.8,1316.9Q117.1,1316.9 115.0,1323.8Q112.9,1330.8 104.8,1331.6Q114.1,1332.5 112.8,1339.4Q111.2,1348.1 102.4,1348.1Q96.9,1348.1 95.6,1346.4" fill="none" stroke="#000" stroke-width="5.8" stroke-linecap="round" stroke-linejoin="round"/>
<path d="M142.2,1069.6Q144.4,1062.9 152.1,1062.9Q159.9,1062.9 158.4,1070.5Q157.3,1076.3 149.3,1082.2L136.9,1093.1L154.1,1093.1M183.1,1062.9L170.2,1062.9L165.9,1076.3Q169.0,1073.8 174.1,1073.8Q180.9,1074.6 179.3,1083.0Q177.4,1093.1 167.9,1093.1Q161.9,1093.1 160.5,1091.4" fill="none" stroke="#000" stroke-width="5.8" stroke-linecap="round" stroke-linejoin="round"/>
<path d="M249.7,914.1Q251.8,907.4 259.1,907.4Q266.5,907.4 265.1,915.0Q264.0,920.8 256.3,926.7L244.4,937.6L260.8,937.6M286.6,909.1Q283.7,907.4 280.3,908.2Q272.3,911.6 269.5,925.9Q267.3,937.6 274.7,937.6Q282.9,937.6 284.6,928.4Q286.0,920.8 278.7,920.8Q271.3,920.8 269.2,927.5" fill="none" stroke="#000" stroke-width="6.8" stroke-linecap="round" stroke-linejoin="round"/>
<path d="M435.4,812.8Q437.5,805.9 445.3,805.9Q453.0,805.9 451.5,813.7Q450.3,819.8 442.3,825.8L429.9,837.1L447.0,837.1M458.6,807.6L476.1,805.9L458.2,837.1" fill="none" stroke="#000" stroke-width="5.8" stroke-linecap="round" stroke-linejoin="round"/>
<path d="M271.3,544.8Q273.5,537.9 281.0,537.9Q288.5,537.9 287.1,545.7Q285.9,551.8 278.1,557.8L265.9,569.1L282.6,569.1M299.9,552.6Q293.4,551.8 294.6,545.7Q296.1,537.9 302.7,537.9Q309.4,537.9 307.9,545.7Q306.8,551.8 299.9,552.6Q291.4,553.5 290.1,560.4Q288.5,569.1 296.8,569.1Q305.2,569.1 306.8,560.4Q308.1,553.5 299.9,552.6Z" fill="none" stroke="#000" stroke-width="5.8" stroke-linecap="round" stroke-linejoin="round"/>
<path d="M375.1,460.4Q377.2,453.9 385.0,453.9Q392.7,453.9 391.4,461.2Q390.3,466.9 382.3,472.6L369.9,483.1L387.2,483.1M413.4,463.6Q411.3,470.1 404.4,470.1Q395.7,470.1 397.3,462.0Q398.8,453.9 407.5,453.9Q416.1,453.9 413.4,463.6Q410.1,476.6 401.9,483.1" fill="none" stroke="#000" stroke-width="5.8" stroke-linecap="round" stroke-linejoin="round"/>
<path d="M446.8,360.1Q451.1,356.4 456.4,356.4Q463.5,356.4 461.2,363.8Q458.9,371.2 449.9,372.1Q460.4,373.0 459.0,380.4Q457.2,389.6 447.4,389.6Q441.2,389.6 439.8,387.8M478.7,356.4Q487.6,356.4 484.4,373.0Q481.3,389.6 472.4,389.6Q463.5,389.6 466.6,373.0Q469.8,356.4 478.7,356.4Z" fill="none" stroke="#000" stroke-width="4.8" stroke-linecap="round" stroke-linejoin="round"/>
<path d="M596.1,366.9Q599.4,363.3 603.3,363.3Q608.6,363.3 606.5,370.5Q604.5,377.7 597.8,378.6Q605.5,379.5 604.1,386.7Q602.4,395.7 595.2,395.7Q590.6,395.7 589.6,393.9M612.6,369.6L618.4,363.3L612.2,395.7" fill="none" stroke="#000" stroke-width="4.6" stroke-linecap="round" stroke-linejoin="round"/>
<path d="M701.3,403.9Q705.2,400.4 710.1,400.4Q716.6,400.4 714.5,407.3Q712.4,414.3 704.0,415.1Q713.6,416.0 712.3,422.9Q710.7,431.6 701.7,431.6Q696.0,431.6 694.7,429.9M721.8,407.3Q723.9,400.4 731.3,400.4Q738.6,400.4 737.1,408.2Q736.0,414.3 728.3,420.3L716.4,431.6L732.7,431.6" fill="none" stroke="#000" stroke-width="4.8" stroke-linecap="round" stroke-linejoin="round"/>
<path d="M418.0,188.5Q421.9,184.9 426.7,184.9Q433.2,184.9 431.1,192.1Q428.9,199.2 420.6,200.1Q430.2,201.0 428.8,208.2Q427.1,217.1 418.2,217.1Q412.5,217.1 411.2,215.3M439.8,188.5Q443.8,184.9 448.6,184.9Q455.1,184.9 452.9,192.1Q450.8,199.2 442.5,200.1Q452.0,201.0 450.7,208.2Q449.0,217.1 440.1,217.1Q434.4,217.1 433.1,215.3" fill="none" stroke="#000" stroke-width="5.8" stroke-linecap="round" stroke-linejoin="round"/>
<path d="M429.5,94.3Q433.0,90.9 437.4,90.9Q443.3,90.9 441.3,97.6Q439.3,104.3 431.8,105.2Q440.4,106.0 439.2,112.7Q437.6,121.1 429.5,121.1Q424.4,121.1 423.2,119.4M460.2,90.9L444.5,111.9L459.1,111.9M458.1,101.8L454.4,121.1" fill="none" stroke="#000" stroke-width="5.8" stroke-linecap="round" stroke-linejoin="round"/>
<path d="M998.4,1125.3Q1001.8,1121.9 1005.9,1121.9Q1011.5,1121.9 1009.5,1128.6Q1007.5,1135.3 1000.5,1136.2Q1008.6,1137.0 1007.3,1143.7Q1005.7,1152.1 998.1,1152.1Q993.3,1152.1 992.2,1150.4M1030.1,1121.9L1019.7,1121.9L1015.8,1135.3Q1018.4,1132.8 1022.5,1132.8Q1027.9,1133.6 1026.3,1142.0Q1024.4,1152.1 1016.8,1152.1Q1011.9,1152.1 1010.9,1150.4" fill="none" stroke="#000" stroke-width="5.8" stroke-linecap="round" stroke-linejoin="round"/>
<g font-family="Liberation Serif" font-size="38" stroke-width="0.6">
<text x="1091" y="1786" letter-spacing="0.9"><tspan fill="#4a6cc0" stroke="#4a6cc0">m</tspan><tspan fill="#5cb048" stroke="#5cb048">o</tspan><tspan fill="#e070b0" stroke="#e070b0">t</tspan><tspan fill="#30a848" stroke="#30a848">o</tspan><tspan fill="#e85020" stroke="#e85020">r</tspan><tspan fill="#f0a020" stroke="#f0a020">u</tspan><tspan fill="#f8c820" stroke="#f8c820">f</tspan></text>
<text x="1221" y="1785" font-size="17.5" fill="#404028" stroke="#404028" stroke-width="0.3">.de</text>
<circle cx="1223.5" cy="1760" r="0.8" fill="#888"/>
</g>
</svg></body></html>
